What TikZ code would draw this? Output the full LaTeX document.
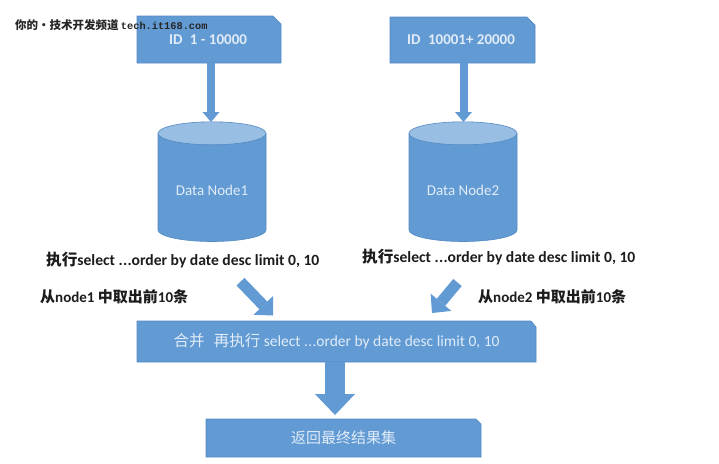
\documentclass[tikz,border=0pt]{standalone}
\usepackage{fontspec}
\setmainfont{Carlito}
\newfontfamily\cjk{Noto Sans CJK SC}
\newfontfamily\wmmono{Liberation Mono}
\usetikzlibrary{arrows.meta}
\definecolor{boxblue}{RGB}{98,154,211}
\definecolor{boxedge}{RGB}{84,138,196}
\definecolor{toplight}{RGB}{152,190,227}
\definecolor{boxtext}{RGB}{224,236,248}
\definecolor{labeltext}{RGB}{28,28,28}
\newcommand{\tridot}{.\kern0.3pt.\kern0.3pt.}
\begin{document}
\begin{tikzpicture}[x=1pt,y=-1pt,
  boxshape/.style={fill=boxblue, draw=boxedge, line width=0.6pt},
  boxlabel/.style={inner sep=0pt, text=boxtext, font=\fontsize{15}{18}\selectfont},
  steplabel/.style={inner sep=0pt, anchor=west, text=labeltext, font=\bfseries\fontsize{15}{18}\selectfont},
  wmlabel/.style={inner sep=0pt, anchor=west, text=black!85},
  thinarrow/.style={draw=boxblue, line width=8pt, -{Triangle[width=17pt,length=10pt,line width=0pt]}},
  diagarrow/.style={draw=boxblue, line width=11pt, -{Triangle[width=27pt,length=14pt,line width=0pt]}},
  widearrow/.style={draw=boxblue, line width=20pt, -{Triangle[width=40pt,length=21pt,line width=0pt]}}
]
\fill[white] (0,0) rectangle (719,463);
\useasboundingbox (0,0) rectangle (719,463);

% ID boxes
\draw[boxshape] (137,63) -- (281,63) -- (281,24) -- (273,16) -- (137,16) -- cycle;
\node[boxlabel, font=\bfseries\fontsize{15}{18}\selectfont, minimum width=144pt, minimum height=47pt] (id1) at (208,39.5) {\raisebox{-2pt}{ID\hspace{0.5em}1 - 10000}};
\draw[boxshape] (390,63) -- (535,63) -- (535,25) -- (527,17) -- (390,17) -- cycle;
\node[boxlabel, font=\bfseries\fontsize{15}{18}\selectfont, minimum width=145pt, minimum height=46pt] (id2) at (461,40) {\raisebox{-1.5pt}{ID\hspace{0.5em}10001+ 20000}};

% cylinders
\fill[boxblue] (158,133.3) -- (158,230) arc[start angle=180,end angle=0,x radius=54,y radius=11.5] -- (266,133.3) -- cycle;
\draw[boxedge, line width=0.6pt] (158,133.3) -- (158,230) arc[start angle=180,end angle=0,x radius=54,y radius=11.5] -- (266,133.3);
\filldraw[fill=toplight, draw=boxedge, line width=0.6pt] (212,133.3) ellipse[x radius=54, y radius=11.5];
\node[boxlabel] (db1) at (212,190) {Data Node1};
\coordinate (db1top) at (211,122);

\fill[boxblue] (409,133.3) -- (409,230) arc[start angle=180,end angle=0,x radius=54,y radius=11.5] -- (517,133.3) -- cycle;
\draw[boxedge, line width=0.6pt] (409,133.3) -- (409,230) arc[start angle=180,end angle=0,x radius=54,y radius=11.5] -- (517,133.3);
\filldraw[fill=toplight, draw=boxedge, line width=0.6pt] (463,133.3) ellipse[x radius=54, y radius=11.5];
\node[boxlabel] (db2) at (463,190) {Data Node2};
\coordinate (db2top) at (463.5,122);

% vertical thin arrows
\draw[thinarrow] (db1top |- id1.south) -- (db1top);
\draw[thinarrow] (db2top |- id2.south) -- (db2top);

% step labels
\node[steplabel, font=\bfseries\fontsize{15.6}{18}\selectfont] (q1) at (46,260) {{\cjk 执行}select \tridot order by date desc limit 0, 10};
\node[steplabel, font=\bfseries\fontsize{15.6}{18}\selectfont] (q2) at (362,257) {{\cjk 执行}select \tridot order by date desc limit 0, 10};
\node[steplabel] (t1) at (40,297) {{\cjk 从}node1 {\cjk 中取出前}10{\cjk 条}};
\node[steplabel] (t2) at (478,297) {{\cjk 从}node2 {\cjk 中取出前}10{\cjk 条}};

% merge box
\draw[boxshape] (137,362) -- (536,362) -- (536,327) -- (531,321) -- (137,321) -- cycle;
\node[boxlabel, font=\fontsize{15.5}{18}\selectfont, minimum width=399pt, minimum height=41pt] (merge) at (336.5,341.5) {{\cjk 合并\hspace{0.6em}再执行} select \tridot order by date desc limit 0, 10};

% diagonal arrows
\coordinate (a1s) at (240.5,281.7);
\coordinate (a1e) at (273,315.5);
\coordinate (a2s) at (457.5,282.5);
\coordinate (a2e) at (432,313);
\draw[diagarrow] (a1s) -- (a1e);
\draw[diagarrow] (a2s) -- (a2e);

% result box
\draw[boxshape] (206,457) -- (481,457) -- (481,424) -- (476,419) -- (206,419) -- cycle;
\node[boxlabel, minimum width=275pt, minimum height=38pt] (result) at (343.5,438) {{\cjk 返回最终结果集}};
\coordinate (restop) at (335,415);
\draw[widearrow] (restop |- merge.south) -- (restop);

% watermark
\node[wmlabel] (wm) at (15,25) {{\cjk\bfseries\fontsize{11.5}{13}\selectfont 你的·技术开发频道} {\wmmono\bfseries\fontsize{10.3}{12}\selectfont tech.it168.com}};
\end{tikzpicture}
\end{document}
